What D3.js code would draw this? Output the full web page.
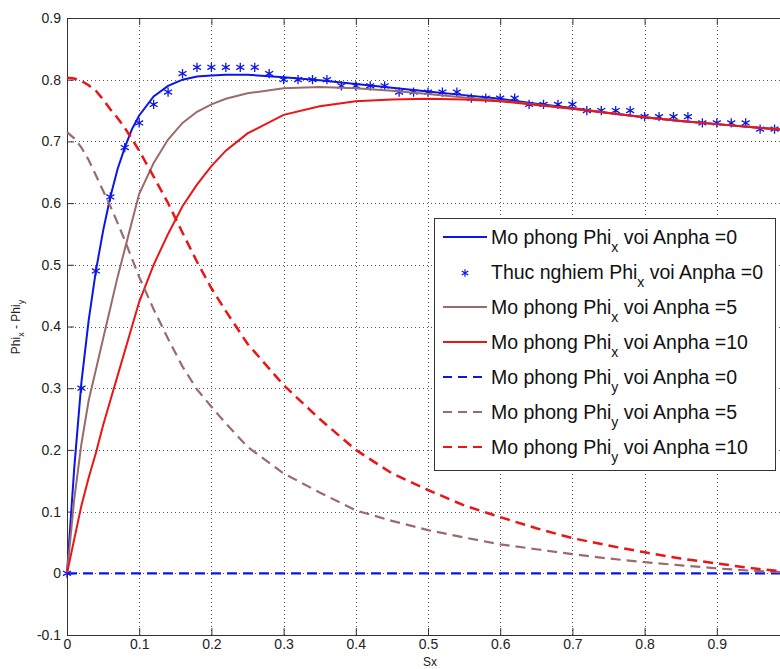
<!DOCTYPE html>
<html>
<head>
<meta charset="utf-8">
<script src="https://cdn.jsdelivr.net/npm/d3@7"></script>
<style>
  body { margin: 0; background: #fff; }
  svg text { font-family: "Liberation Sans", Arial, sans-serif; }
</style>
</head>
<body>
<svg id="chart"></svg>
<script>
// sample points of the simulated curves (Sx)
var sx = [0, 0.01, 0.02, 0.03, 0.04, 0.05, 0.06, 0.07, 0.08, 0.09, 0.10, 0.12, 0.14, 0.16, 0.18, 0.20, 0.22, 0.25,
          0.30, 0.35, 0.40, 0.45, 0.50, 0.55, 0.60, 0.65, 0.70, 0.75, 0.80, 0.85, 0.90, 0.95, 1.00];

// Phi_x
var phiX0  = [0, 0.17, 0.31, 0.41, 0.49, 0.555, 0.61, 0.655, 0.69, 0.72, 0.742, 0.773, 0.79, 0.80, 0.805, 0.807, 0.808, 0.808,
              0.804, 0.799, 0.793, 0.787, 0.781, 0.775, 0.769, 0.761, 0.754, 0.746, 0.739, 0.733, 0.728, 0.723, 0.718];
var phiX5  = [0, 0.12, 0.21, 0.28, 0.33, 0.38, 0.43, 0.48, 0.525, 0.57, 0.615, 0.665, 0.703, 0.73, 0.748, 0.76, 0.769, 0.778,
              0.786, 0.788, 0.786, 0.782, 0.777, 0.771, 0.766, 0.76, 0.753, 0.746, 0.739, 0.733, 0.728, 0.723, 0.718];
var phiX10 = [0, 0.055, 0.11, 0.155, 0.195, 0.24, 0.28, 0.32, 0.36, 0.40, 0.44, 0.50, 0.55, 0.595, 0.63, 0.66, 0.685, 0.713,
              0.743, 0.757, 0.765, 0.768, 0.769, 0.768, 0.765, 0.759, 0.753, 0.746, 0.739, 0.733, 0.728, 0.723, 0.718];

// Phi_y
var phiY0  = [0, 0, 0, 0, 0, 0, 0, 0, 0, 0, 0, 0, 0, 0, 0, 0, 0, 0,
              0, 0, 0, 0, 0, 0, 0, 0, 0, 0, 0, 0, 0, 0, 0];
var phiY5  = [0.715, 0.705, 0.69, 0.67, 0.645, 0.62, 0.595, 0.568, 0.54, 0.51, 0.48, 0.428, 0.38, 0.335, 0.298, 0.27, 0.243, 0.205,
              0.162, 0.131, 0.102, 0.085, 0.07, 0.058, 0.047, 0.039, 0.031, 0.024, 0.018, 0.013, 0.008, 0.004, 0.001];
var phiY10 = [0.803, 0.802, 0.798, 0.791, 0.782, 0.768, 0.752, 0.738, 0.722, 0.704, 0.685, 0.643, 0.60, 0.552, 0.505, 0.462, 0.425, 0.372,
              0.305, 0.25, 0.20, 0.162, 0.135, 0.11, 0.091, 0.073, 0.057, 0.045, 0.034, 0.024, 0.016, 0.008, 0.002];

// experiment, Phi_x, Anpha = 0
var expSx  = [0, 0.02, 0.04, 0.06, 0.08, 0.10, 0.12, 0.14, 0.16, 0.18, 0.20, 0.22, 0.24, 0.26, 0.28, 0.30, 0.32, 0.34, 0.36, 0.38,
              0.40, 0.42, 0.44, 0.46, 0.48, 0.50, 0.52, 0.54, 0.56, 0.58, 0.60, 0.62, 0.64, 0.66, 0.68, 0.70, 0.72, 0.74, 0.76, 0.78,
              0.80, 0.82, 0.84, 0.86, 0.88, 0.90, 0.92, 0.94, 0.96, 0.98];
var expPhi = [0, 0.30, 0.49, 0.61, 0.69, 0.73, 0.76, 0.78, 0.81, 0.82, 0.82, 0.82, 0.82, 0.82, 0.81, 0.80, 0.80, 0.80, 0.80, 0.79,
              0.79, 0.79, 0.79, 0.78, 0.78, 0.78, 0.78, 0.78, 0.77, 0.77, 0.77, 0.77, 0.76, 0.76, 0.76, 0.76, 0.75, 0.75, 0.75, 0.75,
              0.74, 0.74, 0.74, 0.74, 0.73, 0.73, 0.73, 0.73, 0.72, 0.72];

var xTicks = [0, 0.1, 0.2, 0.3, 0.4, 0.5, 0.6, 0.7, 0.8, 0.9];
var xTickLabels = ["0", "0.1", "0.2", "0.3", "0.4", "0.5", "0.6", "0.7", "0.8", "0.9"];
var yTicks = [-0.1, 0, 0.1, 0.2, 0.3, 0.4, 0.5, 0.6, 0.7, 0.8, 0.9];
var yTickLabels = ["-0.1", "0", "0.1", "0.2", "0.3", "0.4", "0.5", "0.6", "0.7", "0.8", "0.9"];

var legendNames = ["Mo phong Phi", "Thuc nghiem Phi", "Mo phong Phi", "Mo phong Phi", "Mo phong Phi", "Mo phong Phi", "Mo phong Phi"];
var legendSubs  = ["x", "x", "x", "x", "y", "y", "y"];
var legendTails = [" voi Anpha =0", " voi Anpha =0", " voi Anpha =5", " voi Anpha =10", " voi Anpha =0", " voi Anpha =5", " voi Anpha =10"];

var blue = "#0b16e8", brown = "#9a6b6b", red = "#ec1414";
var dash = "10,6";

var width = 780, height = 669;
var padL = 67, padR = 789, padT = 18, padB = 635;

var svg = d3.select("#chart").attr("width", width).attr("height", height);

var x = d3.scaleLinear().domain([0, 1]).range([padL, padR]);
var y = d3.scaleLinear().domain([-0.1, 0.9]).range([padB, padT]);

// grid
var grid = svg.append("g").attr("stroke", "#555").attr("stroke-width", 1).attr("stroke-dasharray", "1,3");
grid.selectAll(".gx").data(xTicks.slice(1)).enter().append("line")
    .attr("x1", d => Math.round(x(d)) + 0.5).attr("x2", d => Math.round(x(d)) + 0.5)
    .attr("y1", padT).attr("y2", padB);
grid.selectAll(".gy").data(yTicks.slice(1, -1)).enter().append("line")
    .attr("x1", padL).attr("x2", padR)
    .attr("y1", d => Math.round(y(d)) + 0.5).attr("y2", d => Math.round(y(d)) + 0.5);

// axes, ticks pointing inward like matlab
var xAxis = d3.axisBottom(x).tickValues(xTicks).tickSizeInner(-7).tickSizeOuter(0).tickPadding(8)
    .tickFormat((d, i) => xTickLabels[i]);
var xAxisTop = d3.axisTop(x).tickValues(xTicks).tickSizeInner(-7).tickSizeOuter(0).tickFormat("");
var yAxis = d3.axisLeft(y).tickValues(yTicks).tickSizeInner(-7).tickSizeOuter(0).tickPadding(6)
    .tickFormat((d, i) => yTickLabels[i]);

function styleAxis(g) {
  g.select(".domain").attr("stroke", "#333");
  g.selectAll(".tick line").attr("stroke", "#333");
  g.selectAll(".tick text").attr("fill", "#222").style("font-size", "14px");
}

svg.append("g").attr("transform", "translate(0," + padB + ")").call(xAxis).call(styleAxis)
   .selectAll(".tick text").attr("dy", "0.4em");
svg.append("g").attr("transform", "translate(0," + padT + ")").call(xAxisTop).call(styleAxis);
svg.append("g").attr("transform", "translate(" + padL + ",0)").call(yAxis).call(styleAxis);

// curves
var line = d3.line().x(d => x(d[0])).y(d => y(d[1]));
var series = [
  { v: phiX0,  color: blue,  dash: null, w: 2 },
  { v: null },
  { v: phiX5,  color: brown, dash: null, w: 2 },
  { v: phiX10, color: red,   dash: null, w: 2 },
  { v: phiY0,  color: blue,  dash: dash, w: 2.2 },
  { v: phiY5,  color: brown, dash: dash, w: 2.2 },
  { v: phiY10, color: red,   dash: dash, w: 2.5 }
];

var plot = svg.append("g");
var star = d3.symbol().type(d3.symbolAsterisk).size(60);

series.forEach(function(s, i) {
  if (i === 1) {
    plot.selectAll(".star").data(d3.zip(expSx, expPhi)).enter().append("path")
        .attr("class", "star")
        .attr("d", star)
        .attr("transform", d => "translate(" + x(d[0]) + "," + y(d[1]) + ")")
        .attr("fill", "none").attr("stroke", blue).attr("stroke-width", 1.3);
    return;
  }
  plot.append("path")
      .datum(d3.zip(sx, s.v))
      .attr("d", line)
      .attr("fill", "none")
      .attr("stroke", s.color)
      .attr("stroke-width", s.w)
      .attr("stroke-dasharray", s.dash);
});

// axis labels
svg.append("text").attr("x", 430).attr("y", 666).attr("text-anchor", "middle")
   .style("font-size", "12px").attr("fill", "#222").text("Sx");

var yl = svg.append("text").attr("transform", "translate(20,327) rotate(-90)")
   .attr("text-anchor", "middle").style("font-size", "12px").attr("fill", "#222");
yl.append("tspan").text("Phi");
yl.append("tspan").attr("dy", 4).style("font-size", "9px").text("x");
yl.append("tspan").attr("dy", -4).text(" - Phi");
yl.append("tspan").attr("dy", 4).style("font-size", "9px").text("y");

// legend
var lg = svg.append("g");
lg.append("rect").attr("x", 434.5).attr("y", 218.5).attr("width", 341).attr("height", 252)
  .attr("fill", "#fff").attr("stroke", "#333").attr("stroke-width", 1);

series.forEach(function(s, i) {
  var cy = 237 + i * 35;
  if (i === 1) {
    lg.append("path").attr("d", d3.symbol().type(d3.symbolAsterisk).size(40))
      .attr("transform", "translate(465," + (cy + 1) + ")")
      .attr("fill", "none").attr("stroke", blue).attr("stroke-width", 1.2);
  } else {
    lg.append("line").attr("x1", 443).attr("x2", 487).attr("y1", cy).attr("y2", cy)
      .attr("stroke", s.color).attr("stroke-width", 2)
      .attr("stroke-dasharray", s.dash ? "9,6" : null);
  }
  var t = lg.append("text").attr("x", 491).attr("y", cy + 7).style("font-size", "19.5px").attr("fill", "#111");
  t.append("tspan").text(legendNames[i]);
  t.append("tspan").attr("dy", 8).style("font-size", "14px").text(legendSubs[i]);
  t.append("tspan").attr("dy", -8).text(legendTails[i]);
});
</script>
</body>
</html>
